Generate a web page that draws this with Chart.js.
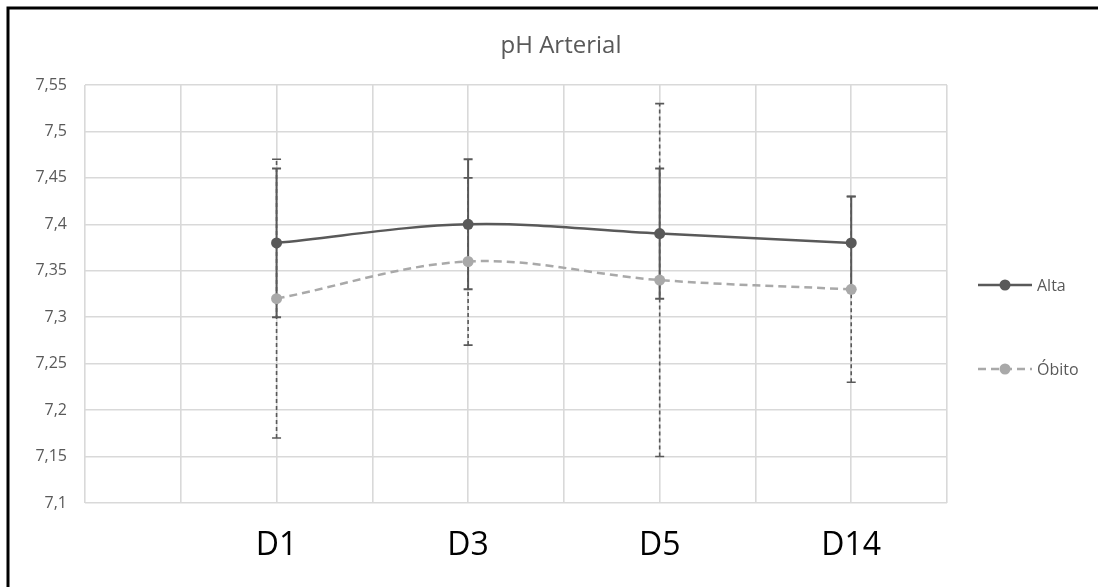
<!DOCTYPE html>
<html>
<head>
<meta charset="utf-8">
<title>pH Arterial</title>
<script src="https://cdn.jsdelivr.net/npm/chart.js@4/dist/chart.umd.min.js"></script>
<style>
  html, body { margin: 0; padding: 0; background: #ffffff; }
  #wrap { width: 1098px; height: 587px; position: relative; }
</style>
</head>
<body>
<div id="wrap"><canvas id="chart" width="1098" height="587"></canvas></div>
<script>
// Days of measurement
const categories = ['D1', 'D3', 'D5', 'D14'];

// Mean arterial pH per group
const altaValues  = [7.38, 7.40, 7.39, 7.38];
const obitoValues = [7.32, 7.36, 7.34, 7.33];

// Error bar limits (lower / upper) per group
const altaLow   = [7.30, 7.33, 7.32, 7.33];
const altaHigh  = [7.46, 7.47, 7.46, 7.43];
const obitoLow  = [7.17, 7.27, 7.15, 7.23];
const obitoHigh = [7.47, 7.45, 7.53, 7.43];

// Y axis tick values and labels
const yTickValues = [7.1, 7.15, 7.2, 7.25, 7.3, 7.35, 7.4, 7.45, 7.5, 7.55];
const yTickLabels = ['7,1', '7,15', '7,2', '7,25', '7,3', '7,35', '7,4', '7,45', '7,5', '7,55'];

const seriesNames = ['Alta', 'Óbito'];
const chartTitle = 'pH Arterial';

// Each day sits on every second vertical gridline of a 9-slot axis
const slotOf = i => 2 * (i + 1);
const xSlots = [0, 1, 2, 3, 4, 5, 6, 7, 8, 9];

const FONT = '"Open Sans", Lato, sans-serif';
const DARK = '#595959';
const LIGHT = '#a9a9a9';

const toPoints = vals => vals.map((v, i) => ({ x: slotOf(i), y: v }));

const errorBars = {
  id: 'errorBars',
  beforeDatasetsDraw(chart) {
    const { ctx, scales: { x, y } } = chart;
    const groups = [
      { low: obitoLow, high: obitoHigh, dash: [4, 3], width: 1.6 },
      { low: altaLow, high: altaHigh, dash: [], width: 2 }
    ];
    ctx.save();
    ctx.strokeStyle = DARK;
    groups.forEach(g => {
      ctx.lineWidth = g.width;
      ctx.setLineDash(g.dash);
      categories.forEach((c, i) => {
        const px = x.getPixelForValue(slotOf(i));
        const yl = y.getPixelForValue(g.low[i]);
        const yh = y.getPixelForValue(g.high[i]);
        ctx.beginPath();
        ctx.moveTo(px, yl);
        ctx.lineTo(px, yh);
        ctx.stroke();
        ctx.setLineDash([]);
        ctx.beginPath();
        ctx.moveTo(px - 4.5, yl); ctx.lineTo(px + 4.5, yl);
        ctx.moveTo(px - 4.5, yh); ctx.lineTo(px + 4.5, yh);
        ctx.stroke();
        ctx.setLineDash(g.dash);
      });
    });
    ctx.restore();
  }
};

const decorations = {
  id: 'decorations',
  afterDraw(chart) {
    const { ctx } = chart;
    ctx.save();
    // frame
    ctx.strokeStyle = '#000000';
    ctx.lineWidth = 3;
    ctx.beginPath();
    ctx.moveTo(8, 587);
    ctx.lineTo(8, 8);
    ctx.lineTo(1098, 8);
    ctx.stroke();

    // title
    ctx.fillStyle = DARK;
    ctx.font = '24px ' + FONT;
    ctx.textAlign = 'center';
    ctx.textBaseline = 'alphabetic';
    ctx.fillText(chartTitle, 561, 53);

    // legend
    const items = chart.data.datasets;
    const rows = [285, 369];
    items.forEach((ds, i) => {
      const yy = rows[i];
      ctx.strokeStyle = ds.borderColor;
      ctx.lineWidth = ds.borderWidth;
      ctx.setLineDash(ds.borderDash || []);
      ctx.beginPath();
      ctx.moveTo(978, yy);
      ctx.lineTo(1032, yy);
      ctx.stroke();
      ctx.setLineDash([]);
      ctx.fillStyle = ds.pointBackgroundColor;
      ctx.beginPath();
      ctx.arc(1005, yy, 5.5, 0, Math.PI * 2);
      ctx.fill();
      ctx.fillStyle = DARK;
      ctx.font = '16px ' + FONT;
      ctx.textAlign = 'left';
      ctx.textBaseline = 'middle';
      ctx.fillText(ds.label, 1037, yy + 1);
    });
    ctx.restore();
  }
};

new Chart(document.getElementById('chart'), {
  type: 'line',
  data: {
    datasets: [
      {
        label: seriesNames[0],
        data: toPoints(altaValues),
        borderColor: DARK,
        backgroundColor: DARK,
        pointBackgroundColor: DARK,
        pointBorderColor: DARK,
        borderWidth: 2.5,
        pointRadius: 5.5,
        pointBorderWidth: 0,
        tension: 0.35
      },
      {
        label: seriesNames[1],
        data: toPoints(obitoValues),
        borderColor: LIGHT,
        backgroundColor: LIGHT,
        pointBackgroundColor: LIGHT,
        pointBorderColor: LIGHT,
        borderWidth: 2.5,
        borderDash: [8, 5],
        pointRadius: 5.5,
        pointBorderWidth: 0,
        tension: 0.35
      }
    ]
  },
  options: {
    responsive: false,
    animation: false,
    devicePixelRatio: 1,
    layout: { padding: { left: 0, right: 151, top: 85, bottom: 0 } },
    plugins: {
      legend: { display: false },
      title: { display: false },
      tooltip: { enabled: false }
    },
    scales: {
      x: {
        type: 'linear',
        min: 0,
        max: 9,
        afterBuildTicks(scale) { scale.ticks = xSlots.map(v => ({ value: v })); },
        afterFit(scale) { scale.height = 84; },
        grid: { color: '#d9d9d9', lineWidth: 1.6, drawTicks: false },
        border: { display: false },
        ticks: {
          autoSkip: false,
          maxRotation: 0,
          padding: 24,
          color: '#000000',
          font: { family: FONT, size: 32 },
          callback(v) {
            const i = categories.findIndex((c, k) => slotOf(k) === v);
            return i >= 0 ? categories[i] : '';
          }
        }
      },
      y: {
        type: 'linear',
        min: 7.1,
        max: 7.55,
        afterBuildTicks(scale) { scale.ticks = yTickValues.map(v => ({ value: v })); },
        afterFit(scale) { scale.width = 85; },
        grid: { color: '#d9d9d9', lineWidth: 1.6, drawTicks: false },
        border: { display: false },
        ticks: {
          padding: 18,
          color: DARK,
          font: { family: FONT, size: 16 },
          callback(v) {
            const i = yTickValues.findIndex(t => Math.abs(t - v) < 1e-9);
            return i >= 0 ? yTickLabels[i] : '';
          }
        }
      }
    }
  },
  plugins: [errorBars, decorations]
});
</script>
</body>
</html>
